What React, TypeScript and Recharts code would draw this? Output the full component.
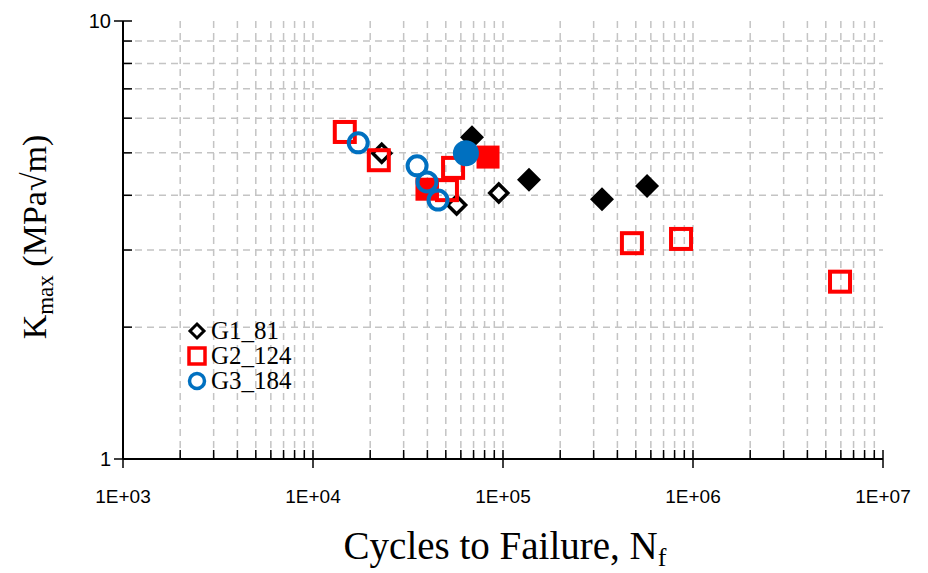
import React from "react";
import { ScatterChart, Scatter, XAxis, YAxis, CartesianGrid } from "recharts";

// cycles to failure (n) vs Kmax (k)
const g1Open = [
  { n: 23000, k: 4.99 },
  { n: 57000, k: 3.8 },
  { n: 95000, k: 4.05 },
];
const g1Solid = [
  { n: 68700, k: 5.43 },
  { n: 137000, k: 4.34 },
  { n: 332000, k: 3.92 },
  { n: 573000, k: 4.2 },
];
const g2Open = [
  { n: 14700, k: 5.58 },
  { n: 22200, k: 4.81 },
  { n: 54600, k: 4.62 },
  { n: 50700, k: 4.11 },
  { n: 477000, k: 3.11 },
  { n: 865000, k: 3.18 },
  { n: 5940000, k: 2.54 },
];
const g2Solid = [
  { n: 39800, k: 4.13 },
  { n: 83400, k: 4.89 },
];
const g3Open = [
  { n: 17300, k: 5.27 },
  { n: 35300, k: 4.67 },
  { n: 39800, k: 4.29 },
  { n: 45500, k: 3.9 },
];
const g3Solid = [{ n: 63800, k: 4.99 }];

const xMajor = [1e3, 1e4, 1e5, 1e6, 1e7];
const xLabels = ["1E+03", "1E+04", "1E+05", "1E+06", "1E+07"];
const yMajor = [1, 10];
const yLabels = ["1", "10"];
const steps = [1, 2, 3, 4, 5, 6, 7, 8, 9];

const xTicks = [...xMajor.slice(0, 4).flatMap((d) => steps.map((s) => s * d)), 1e7];
const yTicks = [...steps, 10];
const xGrid = xTicks.slice(1, -1);
const yGrid = yTicks.slice(1, -1);

const legendItems = [
  { name: "G1_81", kind: "diamond" },
  { name: "G2_124", kind: "square" },
  { name: "G3_184", kind: "circle" },
];

const RED = "#ff0000";
const BLUE = "#0070c0";
const serif = "'Liberation Serif', 'Times New Roman', serif";
const sans = "'Liberation Sans', Arial, sans-serif";

const OpenDiamond = ({ cx, cy }: any) => (
  <path
    d={`M${cx},${cy - 9} L${cx + 9},${cy} L${cx},${cy + 9} L${cx - 9},${cy} Z`}
    fill="#fff"
    stroke="#000"
    strokeWidth={3.5}
  />
);
const SolidDiamond = ({ cx, cy }: any) => (
  <path d={`M${cx},${cy - 12} L${cx + 12},${cy} L${cx},${cy + 12} L${cx - 12},${cy} Z`} fill="#000" />
);
const OpenSquare = ({ cx, cy }: any) => (
  <rect x={cx - 10} y={cy - 10} width={20} height={20} fill="none" stroke={RED} strokeWidth={4} />
);
const SolidSquare = ({ cx, cy }: any) => (
  <rect x={cx - 11.5} y={cy - 11.5} width={23} height={23} fill={RED} />
);
const OpenCircle = ({ cx, cy }: any) => (
  <circle cx={cx} cy={cy} r={9.5} fill="none" stroke={BLUE} strokeWidth={4} />
);
const SolidCircle = ({ cx, cy }: any) => <circle cx={cx} cy={cy} r={13} fill={BLUE} />;

const XTick = ({ x, y, payload }: any) => {
  const i = xMajor.indexOf(payload.value);
  if (i < 0) return <line x1={x} x2={x} y1={y} y2={y - 9} stroke="#000" strokeWidth={1.5} />;
  return (
    <g>
      <line x1={x} x2={x} y1={y - 9} y2={y + 9} stroke="#000" strokeWidth={1.5} />
      <text x={x} y={y + 37} textAnchor="middle" dominantBaseline="central" fontFamily={sans} fontSize={19} fill="#000">
        {xLabels[i]}
      </text>
    </g>
  );
};

const YTick = ({ x, y, payload }: any) => {
  const i = yMajor.indexOf(payload.value);
  if (i < 0) return <line x1={x} x2={x + 9} y1={y} y2={y} stroke="#000" strokeWidth={1.5} />;
  return (
    <g>
      <line x1={x - 9} x2={x + 9} y1={y} y2={y} stroke="#000" strokeWidth={1.5} />
      <text x={x - 12} y={y} textAnchor="end" dominantBaseline="central" fontFamily={sans} fontSize={20} fill="#000">
        {yLabels[i]}
      </text>
    </g>
  );
};

const YTitle = () => (
  <text
    x={46}
    y={237}
    transform="rotate(-90, 46, 237)"
    textAnchor="middle"
    fontFamily={serif}
    fontSize={34}
    fill="#000"
  >
    K
    <tspan fontSize={23} dy={7}>max</tspan>
    <tspan dy={-7}> (MPa√m)</tspan>
  </text>
);

const XTitle = () => (
  <text x={505} y={559} textAnchor="middle" fontFamily={serif} fontSize={39} fill="#000">
    Cycles to Failure, N
    <tspan fontSize={26} dy={7}>f</tspan>
  </text>
);

const LegendMarker = ({ kind }: { kind: string }) => (
  <svg width={24} height={24}>
    {kind === "diamond" && (
      <path d="M12,5 L19,12 L12,19 L5,12 Z" fill="#fff" stroke="#000" strokeWidth={3} />
    )}
    {kind === "square" && <rect x={4} y={4} width={16} height={16} fill="none" stroke={RED} strokeWidth={3.5} />}
    {kind === "circle" && <circle cx={12} cy={12} r={7.5} fill="none" stroke={BLUE} strokeWidth={3.5} />}
  </svg>
);

const LegendBox = () => (
  <div
    style={{
      position: "absolute",
      left: 185,
      top: 318,
      fontFamily: serif,
      fontSize: 25,
      lineHeight: "25px",
      color: "#000",
    }}
  >
    {legendItems.map((it) => (
      <div key={it.name} style={{ display: "flex", alignItems: "center", height: 25 }}>
        <LegendMarker kind={it.kind} />
        <span style={{ marginLeft: 2 }}>{it.name}</span>
      </div>
    ))}
  </div>
);

export default function App() {
  return (
    <div style={{ position: "absolute", left: 0, top: 0, width: 928, height: 573, background: "#fff" }}>
      <ScatterChart width={928} height={573} margin={{ top: 21, right: 45, left: 43, bottom: 24 }}>
        <CartesianGrid
          horizontalValues={yGrid}
          verticalValues={xGrid}
          stroke="#c4c4c4"
          strokeDasharray="7 5"
          strokeWidth={1.5}
        />
        <XAxis
          dataKey="n"
          type="number"
          scale="log"
          domain={[1e3, 1e7]}
          ticks={xTicks}
          interval={0}
          height={90}
          tickSize={0}
          tickMargin={0}
          tickLine={false}
          tick={<XTick />}
          axisLine={{ stroke: "#000", strokeWidth: 2 }}
          label={{ content: <XTitle /> }}
        />
        <XAxis
          xAxisId="top"
          orientation="top"
          type="number"
          scale="log"
          domain={[1e3, 1e7]}
          height={0}
          tick={false}
          tickLine={false}
          axisLine={{ stroke: "#666", strokeWidth: 2 }}
        />
        <YAxis
          dataKey="k"
          type="number"
          scale="log"
          domain={[1, 10]}
          ticks={yTicks}
          interval={0}
          width={80}
          tickSize={0}
          tickMargin={0}
          tickLine={false}
          tick={<YTick />}
          axisLine={{ stroke: "#000", strokeWidth: 2 }}
          label={{ content: <YTitle /> }}
        />
        <YAxis
          yAxisId="right"
          orientation="right"
          type="number"
          scale="log"
          domain={[1, 10]}
          width={0}
          tick={false}
          tickLine={false}
          axisLine={{ stroke: "#444", strokeWidth: 2 }}
        />
        <Scatter name="G1_81" data={g1Open} shape={<OpenDiamond />} isAnimationActive={false} />
        <Scatter data={g1Solid} shape={<SolidDiamond />} isAnimationActive={false} />
        <Scatter name="G2_124" data={g2Open} shape={<OpenSquare />} isAnimationActive={false} />
        <Scatter data={g2Solid} shape={<SolidSquare />} isAnimationActive={false} />
        <Scatter name="G3_184" data={g3Open} shape={<OpenCircle />} isAnimationActive={false} />
        <Scatter data={g3Solid} shape={<SolidCircle />} isAnimationActive={false} />
      </ScatterChart>
      <LegendBox />
    </div>
  );
}
